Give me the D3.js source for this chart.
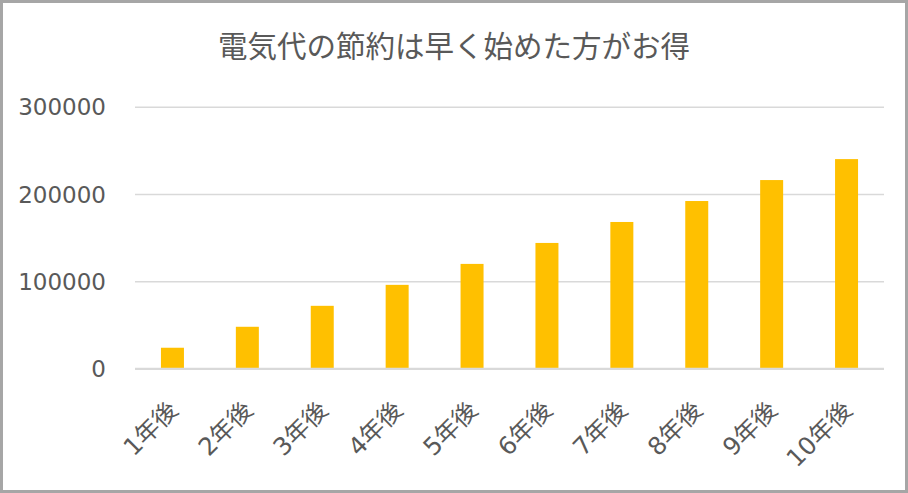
<!DOCTYPE html>
<html><head><meta charset="utf-8">
<script src="https://cdn.jsdelivr.net/npm/d3@7"></script>
<style>
html,body{margin:0;padding:0;background:#fff;}
svg{display:block;}
text{font-family:"DejaVu Sans","Noto Sans CJK JP",sans-serif;fill:#595959;}
</style></head>
<body>
<script>
const title = "電気代の節約は早く始めた方がお得";
const categories = ["1年後","2年後","3年後","4年後","5年後","6年後","7年後","8年後","9年後","10年後"];
const values = [24000,48000,72000,96000,120000,144000,168000,192000,216000,240000];
const yTicks = [0,100000,200000,300000];

const W = 908, H = 493;
const plot = {left:135, right:884, top:106.7, bottom:368.7};

const svg = d3.select("body").append("svg").attr("width",W).attr("height",H);
svg.append("rect").attr("x",1.5).attr("y",1.5).attr("width",W-3).attr("height",H-3)
  .attr("fill","#fff").attr("stroke","#a6a6a6").attr("stroke-width",3);

const x = d3.scaleBand().domain(categories).range([plot.left,plot.right]).paddingInner(0).paddingOuter(0);
const y = d3.scaleLinear().domain([0,300000]).range([plot.bottom,plot.top]);

svg.append("text").attr("x",454).attr("y",57).attr("text-anchor","middle")
  .style("font-family",'"Noto Sans CJK JP",sans-serif')
  .style("font-size","29.5px").text(title);

// gridlines
const yAxis = d3.axisLeft(y).tickValues(yTicks).tickSize(-(plot.right-plot.left)).tickFormat(d3.format("d"));
const gy = svg.append("g").attr("transform",`translate(${plot.left},0)`).call(yAxis);
gy.select(".domain").remove();
gy.selectAll(".tick line").attr("stroke","#d9d9d9").attr("stroke-width",1.5);
gy.selectAll(".tick text").attr("x",-29).attr("dy","0.36em")
  .style("font-family",'"DejaVu Sans",sans-serif').style("font-size","23px").attr("fill","#595959");

const bw = x.bandwidth()*0.307;
svg.append("g").selectAll("rect").data(values).join("rect")
  .attr("x",(d,i)=>x(categories[i])+x.bandwidth()/2-bw/2)
  .attr("width",bw)
  .attr("y",d=>y(d))
  .attr("height",d=>y(0)-y(d))
  .attr("fill","#FFC000");

// baseline
svg.append("line").attr("x1",plot.left).attr("x2",plot.right).attr("y1",plot.bottom).attr("y2",plot.bottom)
  .attr("stroke","#d9d9d9").attr("stroke-width",2);

const xAxis = d3.axisBottom(x).tickSize(0);
const gx = svg.append("g").attr("transform",`translate(0,${plot.bottom})`).call(xAxis);
gx.select(".domain").remove();
gx.selectAll(".tick text")
  .attr("text-anchor","end")
  .attr("y",0).attr("dy",0)
  .attr("transform","translate(7,43) rotate(-45)")
  .style("font-family",'"DejaVu Sans","Noto Sans CJK JP",sans-serif')
  .style("font-size","24.5px").attr("fill","#595959");
</script>
</body></html>
